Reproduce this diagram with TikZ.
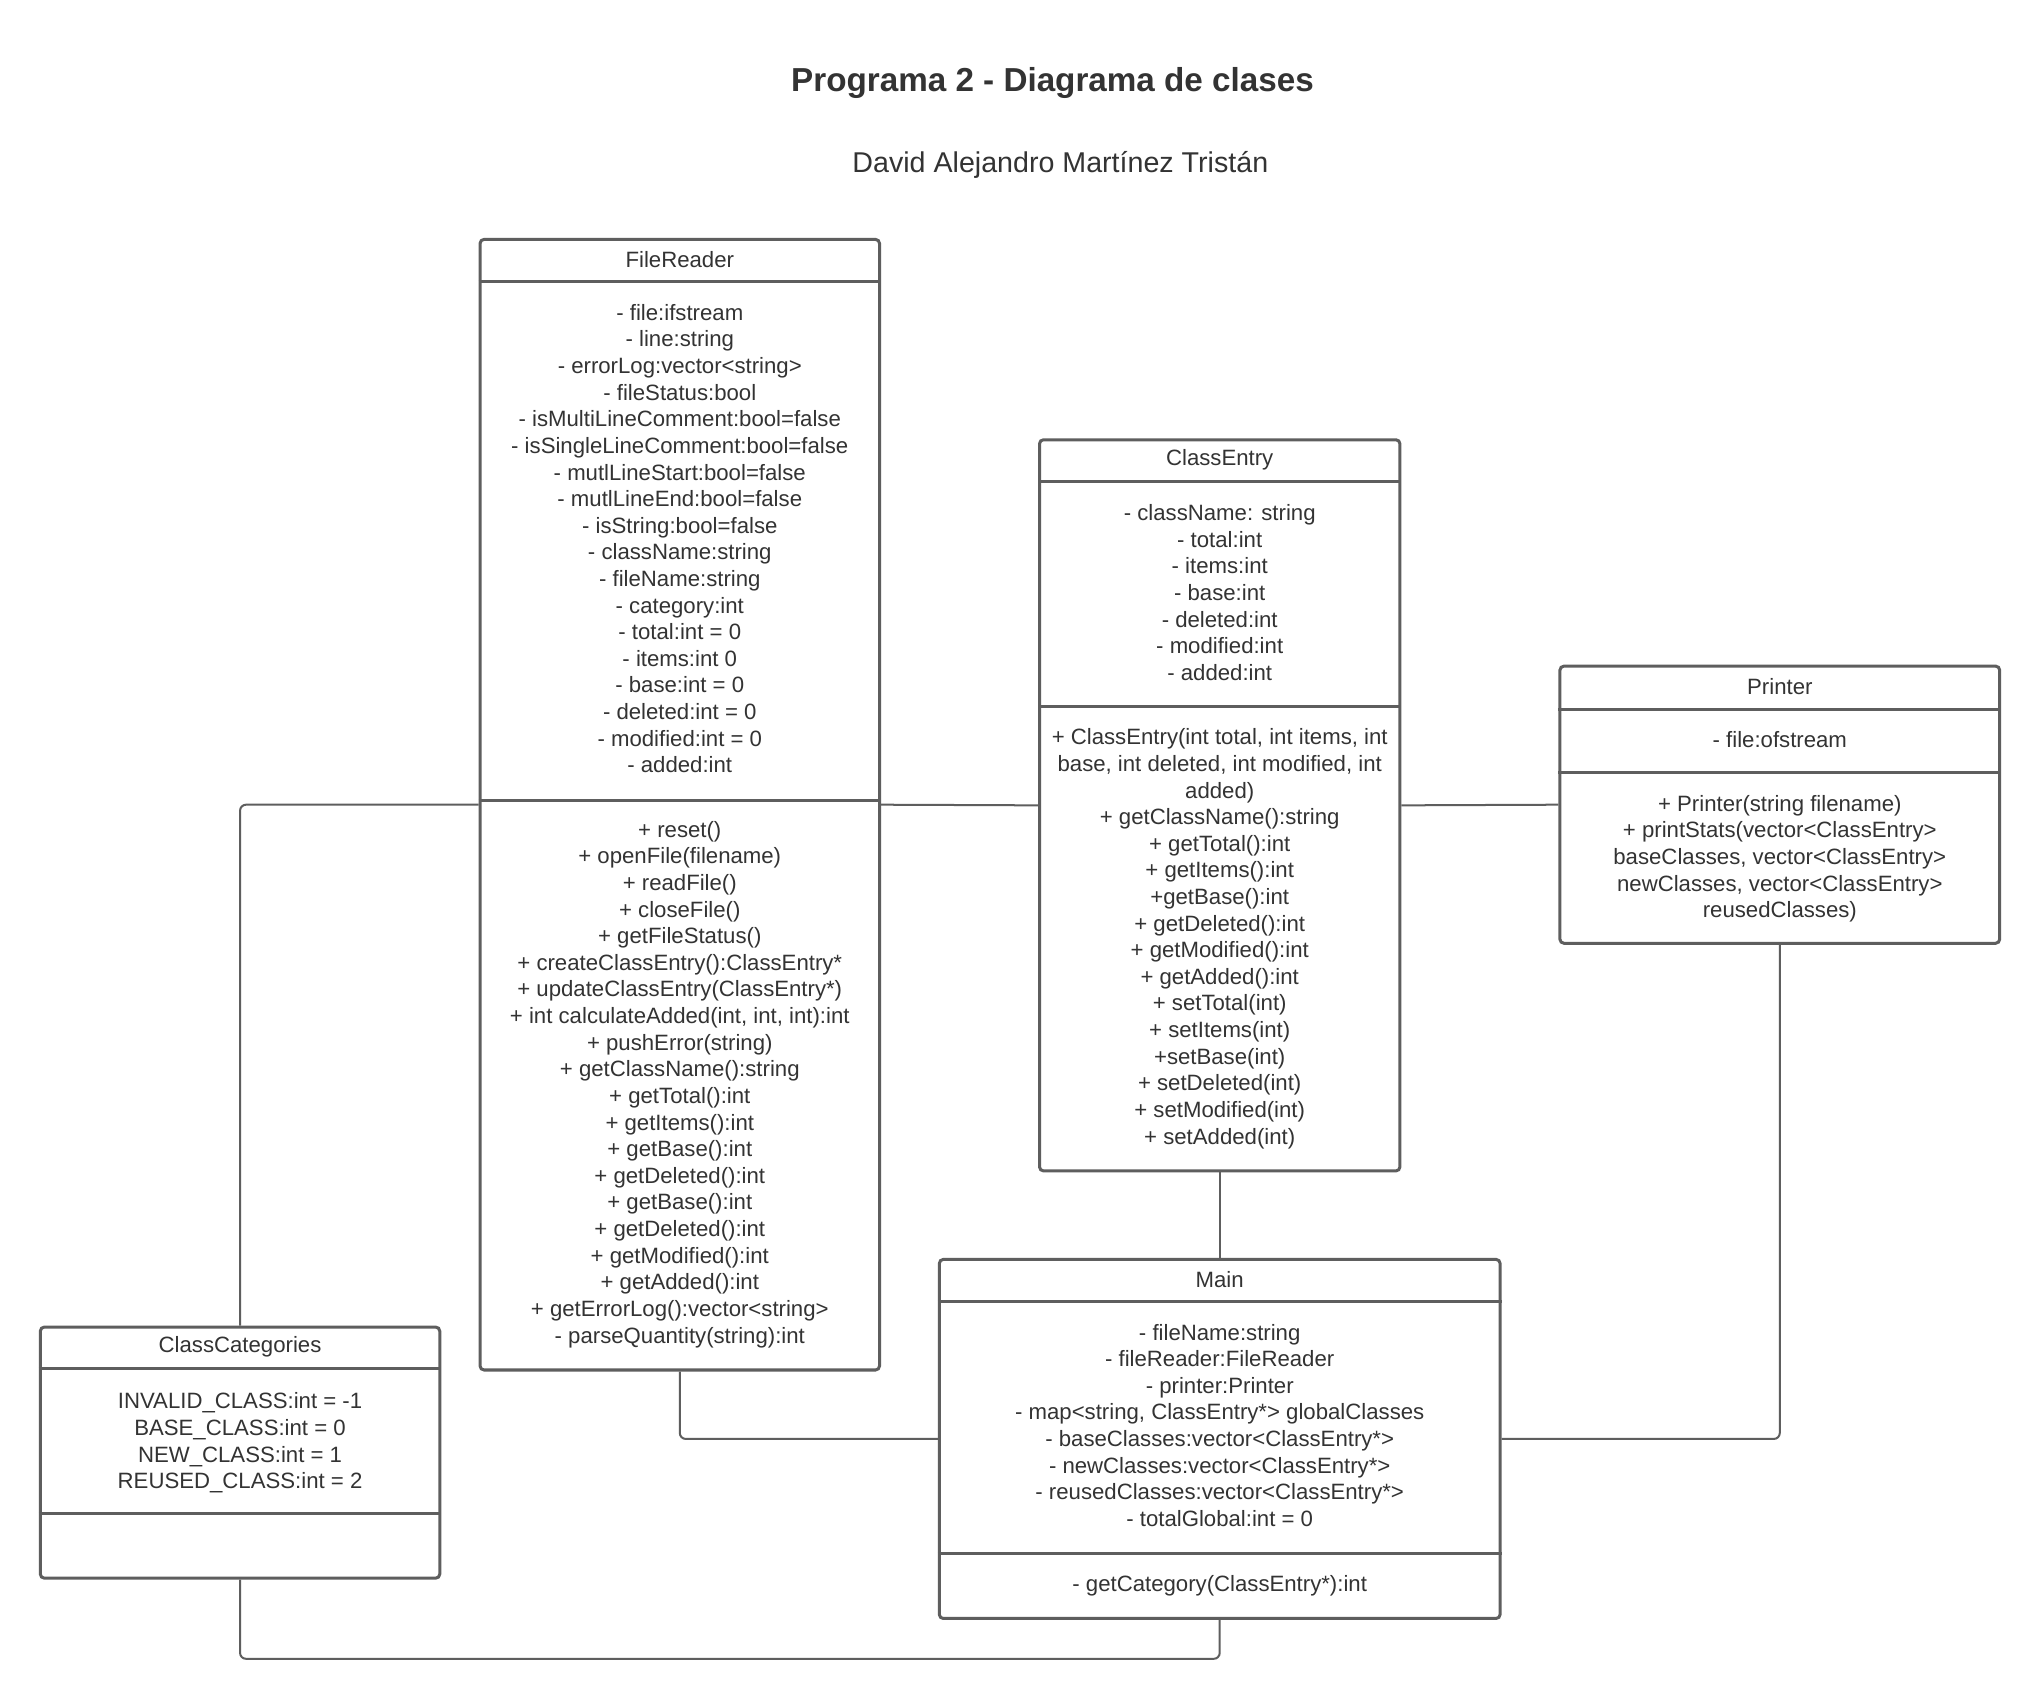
\documentclass[tikz,border=0pt]{standalone}
\usepackage{fontspec}
\setmainfont{Liberation Sans}
\usetikzlibrary{fit}
\definecolor{linegray}{HTML}{5E5E5E}
\definecolor{textgray}{HTML}{333333}
\tikzset{
  classbox/.style={draw=linegray, line width=1.5pt, rounded corners=2pt, inner sep=0pt, fill=white},
  divider/.style={draw=linegray, line width=1.5pt},
  conn/.style={draw=linegray, line width=1pt, rounded corners=3},
  txt/.style={inner sep=0pt, align=center, text=textgray, font=\fontsize{11.08pt}{13.3pt}\selectfont},
  titletxt/.style={inner sep=0pt, text=textgray, font=\bfseries\fontsize{16.6pt}{20pt}\selectfont},
  subtxt/.style={inner sep=0pt, text=textgray, font=\fontsize{14.3pt}{17pt}\selectfont}
}
\begin{document}
\begin{tikzpicture}[x=0.65pt,y=-0.65pt]
\useasboundingbox[fill=white] (0,0) rectangle (1568,1307);

\node[titletxt] (title) at (809,64) {Programa 2 - Diagrama de clases};
\node[subtxt] (author) at (815,127) {David Alejandro Martínez Tristán};

\node[classbox, fit={(369,184) (676,1053)}] (fr) {};
\node[classbox, fit={(799,338) (1076,900)}] (ce) {};
\node[classbox, fit={(1199,512) (1537,725)}] (pr) {};
\node[classbox, fit={(31,1020) (338,1213)}] (cc) {};
\node[classbox, fit={(722,968) (1153,1244)}] (mn) {};

\draw[conn] (cc.north) |- (fr.west);
\draw[conn] (fr.east) -- (ce.west);
\draw[conn] (ce.east) -- (pr.west);
\draw[conn] (pr.south) |- (mn.east);
\draw[conn] (fr.south) |- (mn.west);
\draw[conn] (ce.south) -- (mn.north);
\draw[conn] (cc.south) |- (mn.south |- 0,1275) -- (mn.south);

% FileReader
\draw[divider] (fr.west |- 0,216) -- (fr.east |- 0,216);
\draw[divider] (fr.west |- 0,615) -- (fr.east |- 0,615);
\node[txt] (frname) at (522.5,199.5) {FileReader};
\node[txt] (frattr) at (522.5,414) {- file:ifstream\\- line:string\\- errorLog:vector<string>\\- fileStatus:bool\\- isMultiLineComment:bool=false\\- isSingleLineComment:bool=false\\- mutlLineStart:bool=false\\- mutlLineEnd:bool=false\\- isString:bool=false\\- className:string\\- fileName:string\\- category:int\\- total:int = 0\\- items:int 0\\- base:int = 0\\- deleted:int = 0\\- modified:int = 0\\- added:int};
\node[txt] (frmeth) at (522.5,833.5) {+ reset()\\+ openFile(filename)\\+ readFile()\\+ closeFile()\\+ getFileStatus()\\+ createClassEntry():ClassEntry*\\+ updateClassEntry(ClassEntry*)\\+ int calculateAdded(int, int, int):int\\+ pushError(string)\\+ getClassName():string\\+ getTotal():int\\+ getItems():int\\+ getBase():int\\+ getDeleted():int\\+ getBase():int\\+ getDeleted():int\\+ getModified():int\\+ getAdded():int\\+ getErrorLog():vector<string>\\- parseQuantity(string):int};

% ClassEntry
\draw[divider] (ce.west |- 0,370) -- (ce.east |- 0,370);
\draw[divider] (ce.west |- 0,543) -- (ce.east |- 0,543);
\node[txt] (cename) at (937.5,353.5) {ClassEntry};
\node[txt] (ceattr) at (937.5,455.5) {- className: string\\- total:int\\- items:int\\- base:int\\- deleted:int\\- modified:int\\- added:int};
\node[txt] (cemeth) at (937.5,721.5) {+ ClassEntry(int total, int items, int\\base, int deleted, int modified, int\\added)\\+ getClassName():string\\+ getTotal():int\\+ getItems():int\\+getBase():int\\+ getDeleted():int\\+ getModified():int\\+ getAdded():int\\+ setTotal(int)\\+ setItems(int)\\+setBase(int)\\+ setDeleted(int)\\+ setModified(int)\\+ setAdded(int)};

% Printer
\draw[divider] (pr.west |- 0,545) -- (pr.east |- 0,545);
\draw[divider] (pr.west |- 0,594) -- (pr.east |- 0,594);
\node[txt] (prname) at (1368,527.5) {Printer};
\node[txt] (prattr) at (1368,568.5) {- file:ofstream};
\node[txt] (prmeth) at (1368,660) {+ Printer(string filename)\\+ printStats(vector<ClassEntry>\\baseClasses, vector<ClassEntry>\\newClasses, vector<ClassEntry>\\reusedClasses)};

% ClassCategories
\draw[divider] (cc.west |- 0,1052) -- (cc.east |- 0,1052);
\draw[divider] (cc.west |- 0,1163) -- (cc.east |- 0,1163);
\node[txt] (ccname) at (184.5,1035.5) {ClassCategories};
\node[txt] (ccattr) at (184.5,1109) {INVALID\_CLASS:int = -1\\BASE\_CLASS:int = 0\\NEW\_CLASS:int = 1\\REUSED\_CLASS:int = 2};

% Main
\draw[divider] (mn.west |- 0,1000) -- (mn.east |- 0,1000);
\draw[divider] (mn.west |- 0,1194) -- (mn.east |- 0,1194);
\node[txt] (mnname) at (937.5,983.5) {Main};
\node[txt] (mnattr) at (937.5,1095.5) {- fileName:string\\- fileReader:FileReader\\- printer:Printer\\- map<string, ClassEntry*> globalClasses\\- baseClasses:vector<ClassEntry*>\\- newClasses:vector<ClassEntry*>\\- reusedClasses:vector<ClassEntry*>\\- totalGlobal:int = 0};
\node[txt] (mnmeth) at (937.5,1219) {- getCategory(ClassEntry*):int};
\end{tikzpicture}
\end{document}
